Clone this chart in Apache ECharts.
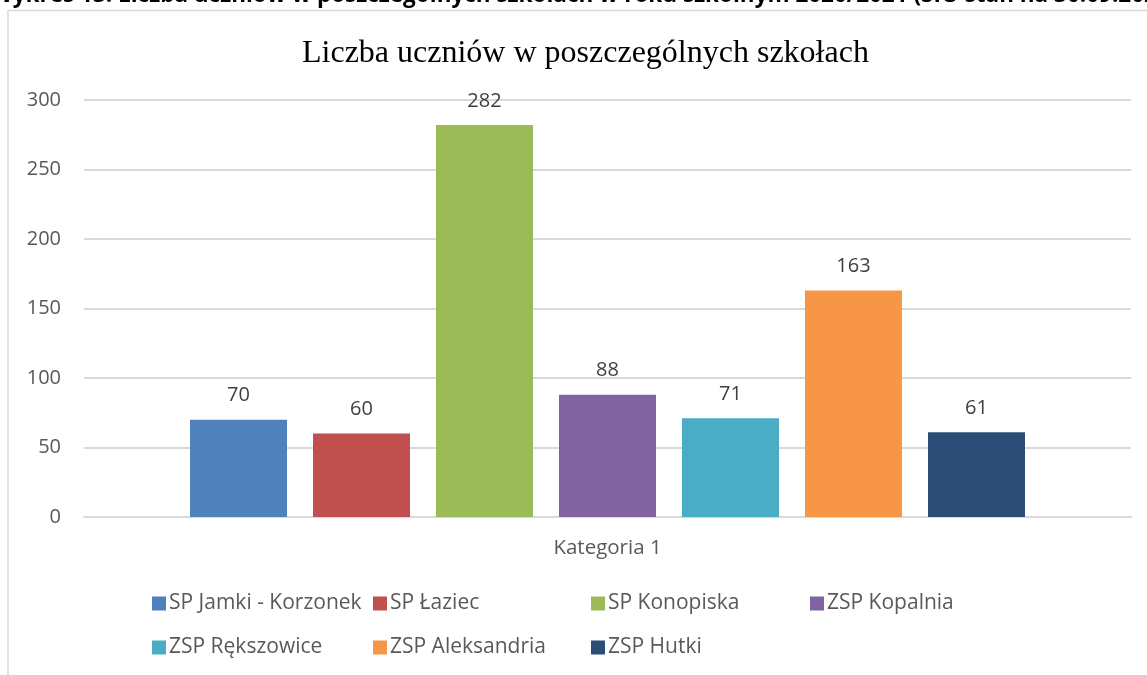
<!DOCTYPE html>
<html>
<head>
<meta charset="utf-8">
<style>
  html, body { margin: 0; padding: 0; background: #fff; }
  #chart { width: 1147px; height: 675px; }
</style>
<script src="https://cdn.jsdelivr.net/npm/echarts@6/dist/echarts.min.js"></script>
</head>
<body>
<div id="chart"></div>
<script>
const categories = ['Kategoria 1'];
const schools = ['SP Jamki - Korzonek', 'SP Łaziec', 'SP Konopiska', 'ZSP Kopalnia',
  'ZSP Rększowice', 'ZSP Aleksandria', 'ZSP Hutki'];
const pupils = [70, 60, 282, 88, 71, 163, 61];
const colors = ['#4f81bd', '#c0504d', '#9bbb59', '#8064a2', '#4bacc6', '#f79646', '#2c4d75'];
const yTicks = { min: 0, max: 300, step: 50 };

const font = '"Open Sans", "Noto Sans", sans-serif';
const grey = '#595959';

const chart = echarts.init(document.getElementById('chart'));

const series = schools.map((name, i) => ({
  type: 'bar',
  name,
  data: [pupils[i]],
  barWidth: 97,
  barGap: '26.8%',
  itemStyle: { color: colors[i] },
  label: {
    show: true,
    position: 'top',
    distance: 14,
    color: '#404040',
    fontFamily: font,
    fontSize: 20,
  },
}));

// Excel lays the legend out on a grid, so each column is its own legend
const legendCols = [152, 373, 591, 810];
const legends = legendCols.map((left, c) => ({
  left,
  top: 593,
  padding: 0,
  orient: 'vertical',
  itemWidth: 14,
  itemHeight: 14,
  itemGap: 23,
  icon: 'rect',
  data: schools.filter((s, i) => i % 4 === c),
  textStyle: { color: grey, fontFamily: font, fontSize: 21, padding: [0, 0, 0, -2] },
}));

chart.setOption({
  animation: false,
  title: {
    text: 'Liczba uczniów w poszczególnych szkołach',
    left: 297,
    top: 33,
    textStyle: { fontFamily: '"Liberation Serif", "Times New Roman", serif', fontSize: 32, fontWeight: 'normal', color: '#000' },
  },
  graphic: [
    {
      type: 'rect',
      shape: { x: 8, y: 10.5, width: 1200, height: 700 },
      style: { fill: 'none', stroke: '#d9d9d9', lineWidth: 1.5 },
      silent: true,
    },
    {
      type: 'text',
      style: {
        x: -9,
        y: 7,
        text: 'Wykres 13. Liczba uczniów w poszczególnych szkołach w roku szkolnym 2020/2021 (SIO stan na 30.09.2020)',
        font: 'bold 22.5px "Open Sans", sans-serif',
        fill: '#000',
        verticalAlign: 'bottom',
      },
      silent: true,
    },
  ],
  legend: legends,
  grid: { left: 84, right: 16, top: 100, bottom: 158 },
  xAxis: {
    type: 'category',
    data: categories,
    axisTick: { show: false },
    axisLine: { lineStyle: { color: '#d9d9d9', width: 2 } },
    axisLabel: { color: grey, fontFamily: font, fontSize: 20.5, margin: 21 },
  },
  yAxis: {
    type: 'value',
    min: yTicks.min,
    max: yTicks.max,
    interval: yTicks.step,
    axisLine: { show: false },
    axisTick: { show: false },
    axisLabel: { color: grey, fontFamily: font, fontSize: 20, margin: 23 },
    splitLine: { lineStyle: { color: '#d9d9d9', width: 2 } },
  },
  series,
});
</script>
</body>
</html>
